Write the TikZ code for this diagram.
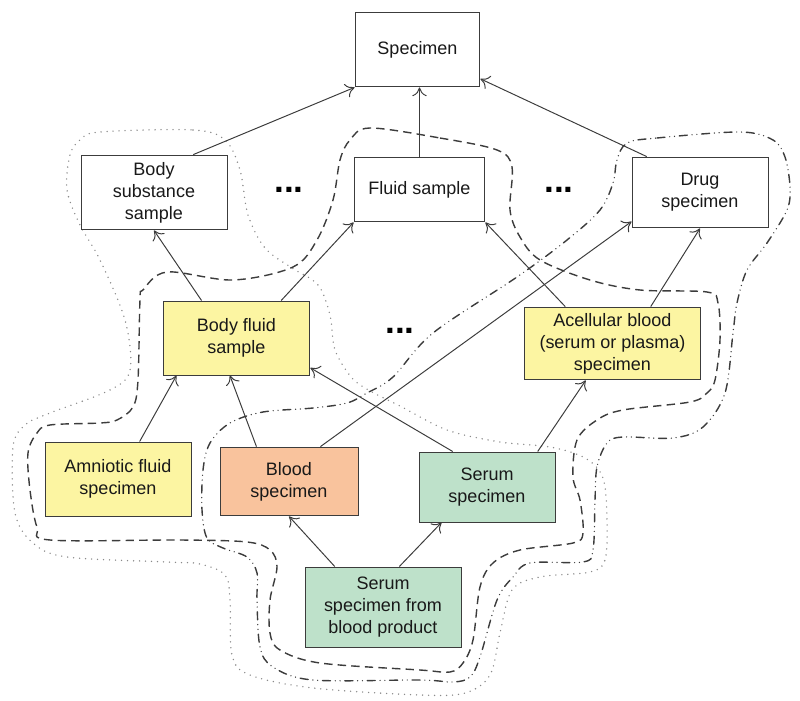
\documentclass[tikz,border=0pt]{standalone}
\usepackage{fontspec}
\setmainfont{Liberation Sans}
\usepackage{tikz}
\usetikzlibrary{arrows.meta, calc}
\definecolor{specyellow}{HTML}{FCF5A2}
\definecolor{specorange}{HTML}{F9C39D}
\definecolor{specgreen}{HTML}{BEE1CA}
\definecolor{specdark}{HTML}{3C3C3C}

\begin{document}
\begin{tikzpicture}[
  x=0.25mm, y=-0.25mm,
  box/.style={
    draw=specdark, line width=0.7pt, fill=white, inner sep=2pt,
    align=center, font=\fontsize{12.8}{15.6}\selectfont, text=black!90
  },
  yellowbox/.style={box, fill=specyellow},
  orangebox/.style={box, fill=specorange},
  greenbox/.style={box, fill=specgreen},
  arrow/.style={-{Computer Modern Rightarrow[length=2.2mm, width=3.6mm]}, line width=0.7pt, color=specdark},
  dotgroup/.style={line width=1.1pt, color=specdark!60, line cap=round, dash pattern=on 0pt off 1.5mm},
  dashgroup/.style={line width=1pt, color=specdark, dash pattern=on 2.1mm off 1.3mm},
  dashdotgroup/.style={line width=1pt, color=specdark, line cap=round,
    dash pattern=on 2mm off 1.2mm on 0pt off 1.2mm on 0pt off 1.2mm},
  dots/.style={inner sep=0pt, font=\fontsize{25}{25}\selectfont\bfseries},
]
\useasboundingbox (0,0) rectangle (800,701);

\draw[dotgroup] plot[smooth cycle, tension=0.55] coordinates {
  (100,132) (193,130) (225,140) (240,170) (248,215) (265,248) (292,268)
  (318,285) (330,315) (335,350) (352,378) (372,392) (400,406) (447,430)
  (500,442) (550,447) (585,458) (603,478) (607,520) (605,560) (590,572)
  (540,577) (512,590) (500,633) (490,675) (465,693) (420,695) (313,688)
  (250,675) (232,655) (230,600) (225,575) (200,564) (167,562) (67,557)
  (33,543) (15,513) (13,447) (25,425) (50,413) (110,390) (130,370)
  (125,320) (100,260) (80,225) (67,190) (70,155) (80,140)};

\draw[dashgroup] plot[smooth cycle, tension=0.55] coordinates {
  (370,128) (440,138) (497,150) (512,167) (510,210) (520,237) (540,260)
  (590,280) (640,290) (707,292) (718,303) (720,340) (715,380) (707,393)
  (690,402) (623,410) (597,420) (577,440) (573,477) (580,500) (583,533)
  (573,543) (520,550) (493,563) (480,587) (473,640) (463,663) (450,672)
  (420,670) (320,663) (280,650) (270,633) (270,600) (277,567) (270,550)
  (247,542) (180,540) (50,540) (37,527) (30,490) (28,453) (37,433)
  (50,425) (100,423) (117,420) (133,407) (138,380) (140,300) (143,290)
  (167,272) (233,280) (293,267) (317,240) (333,200) (340,160) (350,140)};

\draw[dashdotgroup] plot[smooth cycle, tension=0.55] coordinates {
  (627,143) (657,138) (740,132) (773,140) (785,157) (790,187) (787,210)
  (767,243) (747,270) (737,303) (733,333) (725,393) (703,427) (673,438)
  (623,437) (607,443) (597,467) (595,500) (593,550) (583,562) (530,563)
  (513,577) (497,600) (480,657) (470,677) (453,682) (420,680) (313,680)
  (273,667) (260,647) (257,600) (257,573) (247,557) (223,548) (207,538)
  (202,510) (203,470) (210,443) (230,423) (263,412) (313,408) (347,403)
  (367,393) (393,377) (433,333) (517,277) (567,240) (600,210) (613,183)
  (617,160)};

\node[box, minimum width=31.2mm, minimum height=18.7mm] (spec) at (417.5,49.5) {Specimen};
\node[box, minimum width=36.5mm, minimum height=18.7mm] (bss) at (154,192.5) {Body\\substance\\sample};
\node[box, minimum width=32.7mm, minimum height=16.2mm] (fluid) at (419.5,189.5) {Fluid sample};
\node[box, minimum width=34mm, minimum height=17.7mm] (drug) at (700,192.5) {Drug\\specimen};
\node[yellowbox, minimum width=36.7mm, minimum height=18.5mm] (bf) at (236.5,338) {Body fluid\\sample};
\node[yellowbox, minimum width=44.2mm, minimum height=18.2mm] (acell) at (612.5,343.5) {Acellular blood\\(serum or plasma)\\specimen};
\node[yellowbox, minimum width=36.5mm, minimum height=18.5mm] (amnio) at (118,479) {Amniotic fluid\\specimen};
\node[orangebox, minimum width=34.5mm, minimum height=17.2mm] (blood) at (289,481.5) {Blood\\specimen};
\node[greenbox, minimum width=34mm, minimum height=17.5mm] (serum) at (487,487) {Serum\\specimen};
\node[greenbox, minimum width=39mm, minimum height=20mm] (sfbp) at (383,607) {Serum\\specimen from\\blood product};

\node[dots] (dots1) at (289,190) {...};
\node[dots] (dots2) at (559,190) {...};
\node[dots] (dots3) at (400,331) {...};

\draw[arrow] (bss.44) -- (spec.south west);
\draw[arrow] (fluid.north) -- (fluid.north |- spec.south);
\draw[arrow] (drug.146) -- (spec.-25);
\draw[arrow] (bf.133) -- (bss.south);
\draw[arrow] (bf.40) -- (fluid.south west);
\draw[arrow] (acell.142) -- (fluid.south east);
\draw[arrow] (acell.44) -- (drug.south);
\draw[arrow] (blood.48) -- (drug.203);
\draw[arrow] (amnio.60) -- (bf.212);
\draw[arrow] (blood.133) -- (bf.260);
\draw[arrow] (serum.134) -- (bf.-22);
\draw[arrow] (serum.35) -- (acell.234);
\draw[arrow] (sfbp.140) -- (blood.south);
\draw[arrow] (sfbp.68) -- (serum.218);
\end{tikzpicture}
\end{document}
